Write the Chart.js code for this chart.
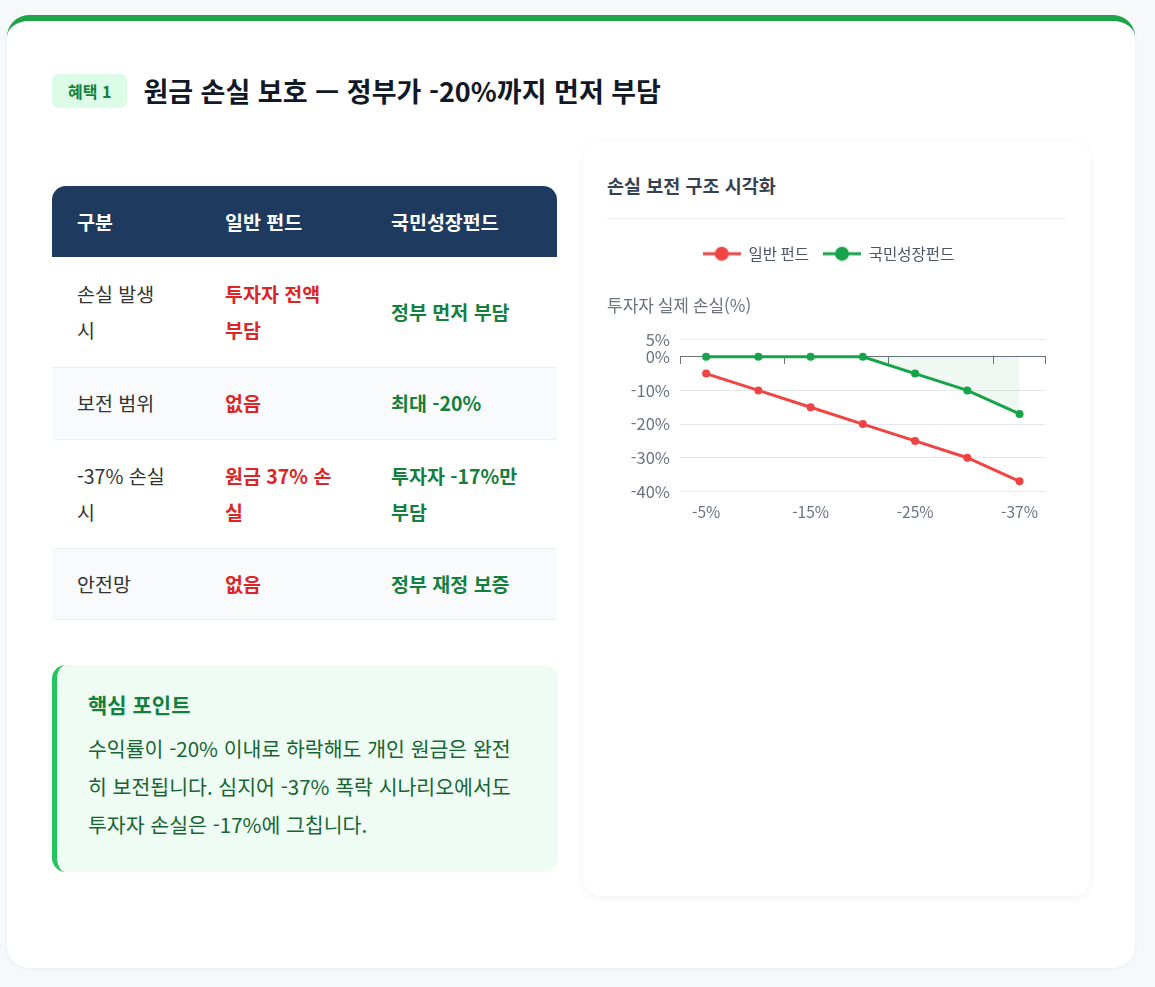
<!DOCTYPE html>
<html lang="ko">
<head>
<meta charset="utf-8">
<script src="https://cdn.jsdelivr.net/npm/chart.js@4/dist/chart.umd.min.js"></script>
<style>
  body { margin:0; background:#f6f8fa; font-family:"Noto Sans CJK KR","Noto Sans",sans-serif; }
  .card { position:absolute; left:7px; top:15px; width:1128px; height:953px; background:#fff; border-radius:22px; border-top:6px solid #1fa34a; box-shadow:0 1px 4px rgba(0,0,0,.05); box-sizing:border-box; }
  .head { position:absolute; left:45px; top:50px; display:flex; align-items:center; }
  .badge { background:#dcfce7; color:#15803d; font-weight:700; font-size:16px; padding:5px 16px; border-radius:7px; }
  .title { font-size:27px; font-weight:700; color:#111827; margin-left:16px; }
  table { position:absolute; left:45px; top:165px; width:505px; border-collapse:collapse; font-size:19.5px; }
  th { background:#1e3a5f; color:#fff; text-align:left; padding:0 25px; height:71px; font-weight:700; }
  th:first-child { border-top-left-radius:14px; } th:last-child { border-top-right-radius:14px; }
  td { padding:0 25px; line-height:36px; color:#333; border-bottom:1px solid #eef0f3; }
  tr:nth-child(odd) td { background:#f8fafc; }
  .r { color:#dc2626; font-weight:700; } .g { color:#15803d; font-weight:700; }
  .box { position:absolute; left:45px; top:644px; width:506px; height:207px; background:#effcf3; border-left:5px solid #22c55e; border-radius:14px; box-sizing:border-box; padding:24px 36px 24px 31px; }
  .box h3 { margin:0 0 10px; font-size:21px; color:#15803d; }
  .box p { margin:0; font-size:20.5px; line-height:38px; color:#166534; }
  .panel { position:absolute; left:576px; top:121px; width:507px; height:754px; background:#fff; border-radius:18px; box-shadow:0 2px 10px rgba(0,0,0,.06); }
  .panel h4 { margin:0; position:absolute; left:24px; top:30px; font-size:18.5px; color:#374151; }
  .panel hr { position:absolute; left:24px; top:76px; width:459px; border:0; border-top:1px solid #eef0f3; margin:0; }
  .cw { position:absolute; left:14px; top:90px; width:460px; height:292px; }
</style>
</head>
<body>
<div class="card">
  <div class="head"><span class="badge">혜택 1</span><span class="title">원금 손실 보호 — 정부가 -20%까지 먼저 부담</span></div>
  <table>
    <tr><th style="width:98px">구분</th><th style="width:116px">일반 펀드</th><th>국민성장펀드</th></tr>
    <tr style="height:110px"><td>손실 발생<br>시</td><td class="r">투자자 전액<br>부담</td><td class="g">정부 먼저 부담</td></tr>
    <tr style="height:72px"><td>보전 범위</td><td class="r">없음</td><td class="g">최대 -20%</td></tr>
    <tr style="height:109px"><td>-37% 손실<br>시</td><td class="r">원금 37% 손<br>실</td><td class="g">투자자 -17%만<br>부담</td></tr>
    <tr style="height:71px"><td>안전망</td><td class="r">없음</td><td class="g">정부 재정 보증</td></tr>
  </table>
  <div class="box"><h3>핵심 포인트</h3><p>수익률이 -20% 이내로 하락해도 개인 원금은 완전히 보전됩니다. 심지어 -37% 폭락 시나리오에서도 투자자 손실은 -17%에 그칩니다.</p></div>
  <div class="panel">
    <h4>손실 보전 구조 시각화</h4><hr>
    <div class="cw"><canvas id="c"></canvas></div>
  </div>
</div>
<script>
const scenarios = ["-5%", "-10%", "-15%", "-20%", "-25%", "-30%", "-37%"];
const normalFund = [-5, -10, -15, -20, -25, -30, -37];
const growthFund = [0, 0, 0, 0, -5, -10, -17];
const yTicks = [5, 0, -10, -20, -30, -40];

Chart.defaults.font.family = '"Noto Sans CJK KR", "Noto Sans", sans-serif';
Chart.defaults.color = "#6b7280";

// legend marker: line with a circle on it
function marker(color) {
  const c = document.createElement("canvas");
  c.width = 38; c.height = 16;
  const g = c.getContext("2d");
  g.strokeStyle = color; g.lineWidth = 3;
  g.beginPath(); g.moveTo(0, 8); g.lineTo(38, 8); g.stroke();
  g.fillStyle = color;
  g.beginPath(); g.arc(19, 8, 7, 0, Math.PI * 2); g.fill();
  return c;
}
const markers = [marker("#ef4444"), marker("#16a34a")];

new Chart(document.getElementById("c"), {
  type: "line",
  data: {
    labels: scenarios,
    datasets: [{
      label: "일반 펀드",
      data: normalFund,
      borderColor: "#ef4444",
      backgroundColor: "#ef4444",
      borderWidth: 3,
      pointRadius: 2.5,
      fill: false
    }, {
      label: "국민성장펀드",
      data: growthFund,
      borderColor: "#16a34a",
      backgroundColor: "rgba(22,163,74,0.07)",
      pointBackgroundColor: "#16a34a",
      borderWidth: 3,
      pointRadius: 2.5,
      fill: "origin"
    }]
  },
  options: {
    responsive: true,
    maintainAspectRatio: false,
    animation: false,
    layout: { padding: { left: 10, right: 7 } },
    plugins: {
      legend: {
        labels: {
          font: { size: 15.5 }, color: "#4b5563", usePointStyle: true, pointStyleWidth: 38, padding: 14,
          generateLabels: chart => Chart.defaults.plugins.legend.labels.generateLabels(chart)
            .map((l, i) => Object.assign(l, { pointStyle: markers[i] }))
        }
      },
      title: { display: true, text: "투자자 실제 손실(%)", align: "start", weight: 500, font: { size: 17, weight: "normal" }, color: "#6b7280", padding: { top: 24, bottom: 24 } }
    },
    scales: {
      y: {
        min: -40, max: 5,
        afterBuildTicks: a => { a.ticks = yTicks.map(v => ({ value: v })); },
        afterFit: a => { a.width = 73; },
        ticks: { font: { size: 16.5 }, padding: 10, callback: v => v + "%" },
        grid: { color: "#e5e7eb", drawTicks: false },
        border: { display: false }
      },
      x: {
        offset: true,
        grid: { display: false },
        border: { display: false },
        ticks: { font: { size: 15.5 }, maxRotation: 0, autoSkip: false, callback: (v, i) => i % 2 ? null : scenarios[i] }
      },
      x2: {
        type: "linear",
        position: { y: 0 },
        min: -0.5, max: 6.5,
        afterBuildTicks: a => { a.ticks = [-0.5, 1.5, 3.5, 5.5, 6.5].map(v => ({ value: v })); },
        grid: { display: true, drawOnChartArea: false, color: "#6b7280", tickLength: 7 },
        border: { display: true, color: "#6b7280" },
        ticks: { color: "transparent" }
      }
    }
  }
});
</script>
</body>
</html>
